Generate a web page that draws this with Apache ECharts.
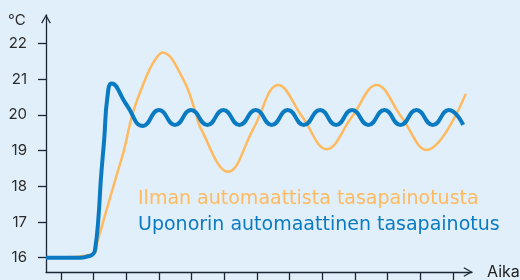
<!DOCTYPE html>
<html>
<head>
<meta charset="utf-8">
<script src="https://cdn.jsdelivr.net/npm/echarts@6/dist/echarts.min.js"></script>
<style>
  html, body { margin: 0; padding: 0; background: #e1effa; }
  #main { width: 520px; height: 280px; }
</style>
</head>
<body>
<div id="main"></div>
<script>
// x = aika (yksi jakoväli = 1), y = lämpötila °C
var seriesNames = ['Ilman automaattista tasapainotusta', 'Uponorin automaattinen tasapainotus'];
var yTicks = [16, 17, 18, 19, 20, 21, 22];
var xTicks = [0, 1, 2, 3, 4, 5, 6, 7, 8, 9, 10, 11, 12];

var ilmanData = [
    [-0.46, 16.0], [0.98, 16.1], [1.13, 16.5], [1.22, 16.78], [1.5, 17.68],
    [1.81, 18.64], [1.93, 19.02], [2.2, 20.06], [2.57, 20.98], [2.82, 21.46],
    [3.11, 21.75], [3.73, 21.02], [4.12, 20.08], [4.25, 19.67], [5.12, 18.41],
    [5.89, 19.62], [6.65, 20.84],
    [7.39, 19.94], [8.13, 19.04], [8.9, 19.94], [9.66, 20.84], [10.42, 19.94],
    [11.19, 19.02], [12.39, 20.59]
];

var uponorData = [
    [-0.46, 16.0], [0.58, 16.0], [0.83, 16.04], [0.98, 16.1], [1.04, 16.22],
    [1.14, 17.06], [1.22, 18.2], [1.32, 19.3], [1.42, 20.5], [1.55, 20.88],
    [2.01, 20.28], [2.51, 19.69],
    [3.0, 20.14], [3.49, 19.72], [3.98, 20.14], [4.48, 19.72], [4.97, 20.14],
    [5.46, 19.72], [5.96, 20.14], [6.45, 19.72], [6.94, 20.14], [7.43, 19.72],
    [7.93, 20.14], [8.42, 19.72], [8.91, 20.14], [9.41, 19.72], [9.9, 20.14],
    [10.39, 19.72], [10.88, 20.14], [11.38, 19.72], [11.87, 20.14], [12.31, 19.72]
];

var axisColor = '#1b2636';
var orange = '#ffb95e';
var blue = '#0a7bc2';
// avoin nuolenkärki
var chevron = 'path://M0,8.6 L5,0 L10,8.6 L8.9,9.3 L5,2.4 L1.1,9.3 Z';

var myChart = echarts.init(document.getElementById('main'));

var option = {
    backgroundColor: '#e1effa',
    animation: false,
    grid: { left: 46, right: 48, top: 15, bottom: 8, outerBoundsMode: 'none', containLabel: false },
    xAxis: {
        type: 'value',
        min: -0.46,
        max: 12.58,
        name: 'Aika',
        nameLocation: 'end',
        nameGap: 15,
        nameTextStyle: { color: '#222', fontSize: 16, fontFamily: 'Inter', padding: [4, 0, 0, 0] },
        splitLine: { show: false },
        axisLine: {
            onZero: false,
            lineStyle: { color: axisColor, width: 1.3 },
            symbol: ['none', chevron],
            symbolSize: [10, 9],
            symbolOffset: [0, -4]
        },
        axisTick: { customValues: xTicks, length: 9, inside: false, lineStyle: { color: axisColor, width: 1.3 } },
        axisLabel: { show: false }
    },
    yAxis: {
        type: 'value',
        min: 15.6,
        max: 22.8,
        splitLine: { show: false },
        axisLine: {
            show: true,
            onZero: false,
            lineStyle: { color: axisColor, width: 1.3 },
            symbol: ['none', chevron],
            symbolSize: [10, 9],
            symbolOffset: [0, -4]
        },
        axisTick: { show: true, customValues: yTicks, length: 8, lineStyle: { color: axisColor, width: 1.3 } },
        axisLabel: { customValues: yTicks, margin: 19, color: '#2b2b2b', fontSize: 15, fontFamily: 'Inter' }
    },
    graphic: [
        { type: 'text', left: 8, top: 13, style: { text: '°C', fill: '#2b2b2b', fontSize: 15, fontFamily: 'Inter' } },
        { type: 'text', left: 138, top: 190, style: { text: seriesNames[0], fill: orange, fontSize: 19, fontFamily: 'DejaVu Sans' } },
        { type: 'text', left: 138, top: 216, style: { text: seriesNames[1], fill: blue, fontSize: 19, fontFamily: 'DejaVu Sans' } }
    ],
    series: [{
        name: seriesNames[0],
        type: 'line',
        data: ilmanData,
        smooth: 0.4,
        showSymbol: false,
        lineStyle: { color: orange, width: 2.5 }
    }, {
        name: seriesNames[1],
        type: 'line',
        data: uponorData,
        smooth: 0.5,
        showSymbol: false,
        lineStyle: { color: blue, width: 4 }
    }]
};

myChart.setOption(option);
</script>
</body>
</html>
